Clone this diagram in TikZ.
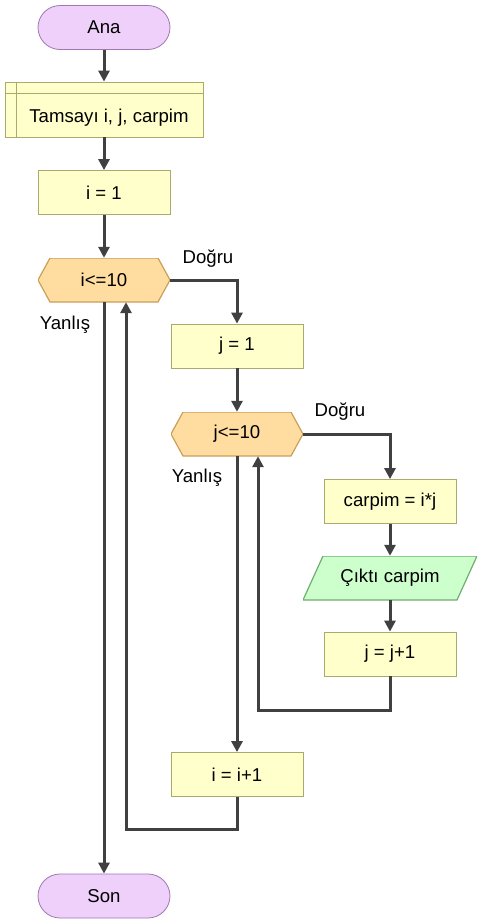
\documentclass[tikz,border=0pt]{standalone}
\usepackage{fontspec}
\setmainfont{Liberation Sans}
\usetikzlibrary{arrows.meta,calc}
\definecolor{termfill}{RGB}{238,208,250}
\definecolor{termdraw}{RGB}{160,120,175}
\definecolor{boxfill}{RGB}{255,255,204}
\definecolor{boxdraw}{RGB}{170,170,110}
\definecolor{hexfill}{RGB}{255,220,160}
\definecolor{hexdraw}{RGB}{200,160,90}
\definecolor{iofill}{RGB}{204,255,204}
\definecolor{iodraw}{RGB}{110,175,110}
\definecolor{linec}{RGB}{64,64,64}
\begin{document}
\begin{tikzpicture}[x=1pt,y=-1pt,
  every node/.style={font=\fontsize{18.6}{22}\selectfont, inner sep=0pt},
  term/.style={draw=termdraw, fill=termfill, rounded corners=22pt, minimum width=132pt, minimum height=44pt, line width=0.8pt},
  procbox/.style={draw=boxdraw, fill=boxfill, minimum width=132pt, minimum height=44pt, line width=0.8pt},
  declbox/.style={draw=boxdraw, fill=boxfill, minimum width=198pt, minimum height=55pt, line width=0.8pt,
    path picture={\draw[boxdraw, line width=0.8pt]
      ([xshift=11pt]path picture bounding box.north west) -- ([xshift=11pt]path picture bounding box.south west)
      ([yshift=-11pt]path picture bounding box.north west) -- ([yshift=-11pt]path picture bounding box.north east);}},
  hexbox/.style={minimum width=132pt, minimum height=44pt,
    path picture={\draw[draw=hexdraw, fill=hexfill, line width=1.2pt]
      ([xshift=12pt]path picture bounding box.north west) -- ([xshift=-12pt]path picture bounding box.north east)
      -- (path picture bounding box.east) -- ([xshift=-12pt]path picture bounding box.south east)
      -- ([xshift=12pt]path picture bounding box.south west) -- (path picture bounding box.west) -- cycle;}},
  iobox/.style={minimum width=174pt, minimum height=44pt,
    path picture={\draw[draw=iodraw, fill=iofill, line width=1.2pt]
      ([xshift=20pt]path picture bounding box.north west) -- (path picture bounding box.north east)
      -- ([xshift=-20pt]path picture bounding box.south east) -- (path picture bounding box.south west) -- cycle;}},
  arr/.style={draw=linec, line width=3pt, -{Triangle[width=11pt,length=11pt]}},
  lbl/.style={font=\fontsize{18.6}{22}\selectfont}
]
\useasboundingbox (0,0) rectangle (484,924);
\node[term] (ana) at (104,27.5) {Ana};
\node[declbox] (decl) at (104,109.5) {\hspace*{10pt}\raisebox{-12.5pt}[0pt][0pt]{Tamsayı i, j, carpim}};
\node[procbox] (init) at (104,192.5) {i = 1};
\node[hexbox] (c1) at (104,280) {i<=10};
\node[procbox] (j1) at (237,346) {j = 1};
\node[hexbox] (c2) at (237,434) {j<=10};
\node[procbox] (mul) at (390,501.5) {carpim = i*j};
\node[iobox] (out) at (390,578) {Çıktı carpim};
\node[procbox] (inc) at (390,654) {j = j+1};
\node[procbox] (inc2) at (237,774.5) {i = i+1};
\node[term] (son) at (104,896) {Son};
\node[lbl] (t1) at (208,259) {Doğru};
\node[lbl] (f1) at (65,325) {Yanlış};
\node[lbl] (t2) at (340,412) {Doğru};
\node[lbl] (f2) at (197,478) {Yanlış};
\draw[arr] (ana) -- (decl);
\draw[arr] (decl) -- (init);
\draw[arr] (init) -- (c1);
\draw[arr] (c1.east) -| (j1.north);
\draw[arr] (j1) -- (c2);
\draw[arr] (c2.east) -| (mul.north);
\draw[arr] (mul) -- (out);
\draw[arr] (out) -- (inc);
\draw[arr] (inc.south) -- ++(0,34) -| ([xshift=21pt]c2.south);
\draw[arr] (c2.south) -- (inc2.north);
\draw[arr] (inc2.south) -- ++(0,33) -| ([xshift=22pt]c1.south);
\draw[arr] (c1.south) -- (son.north);
\end{tikzpicture}
\end{document}
